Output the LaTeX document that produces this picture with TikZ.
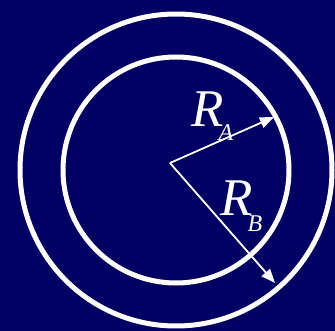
\documentclass[tikz,border=0pt]{standalone}
\usepackage{fontspec}
\setmainfont{Liberation Serif}
\usetikzlibrary{arrows.meta}

\definecolor{navy}{RGB}{0,0,100}

\tikzset{
  ring/.style={draw=white, line width=5pt},
  radius arrow/.style={draw=white, line width=1.8pt, -{Triangle[length=14pt, width=11pt]}},
  rlabel/.style={text=white, inner sep=0pt, anchor=base west, font=\itshape\fontsize{53}{53}\selectfont}
}
\newcommand{\rsub}[2]{R\kern-5pt\raisebox{#1}{\fontsize{24}{24}\selectfont #2}}

\begin{document}
\begin{tikzpicture}[x=1pt, y=-1pt]

% background
\fill[navy] (0,0) rectangle (335,331);
\useasboundingbox (0,0) rectangle (335,331);

% rings
\coordinate (c) at (176,170);
\draw[ring] (c) circle (156);
\draw[ring] (c) circle (113);

% radii
\coordinate (o) at (170,163);
\coordinate (ta) at (274,117);
\coordinate (tb) at (275,283);
\draw[radius arrow] (o) -- (ta);
\draw[radius arrow] (o) -- (tb);

% labels
\node[rlabel] (ra) at (191,127) {\rsub{-14pt}{A}};
\node[rlabel] (rb) at (220,216) {\rsub{-16pt}{B}};

\end{tikzpicture}
\end{document}
